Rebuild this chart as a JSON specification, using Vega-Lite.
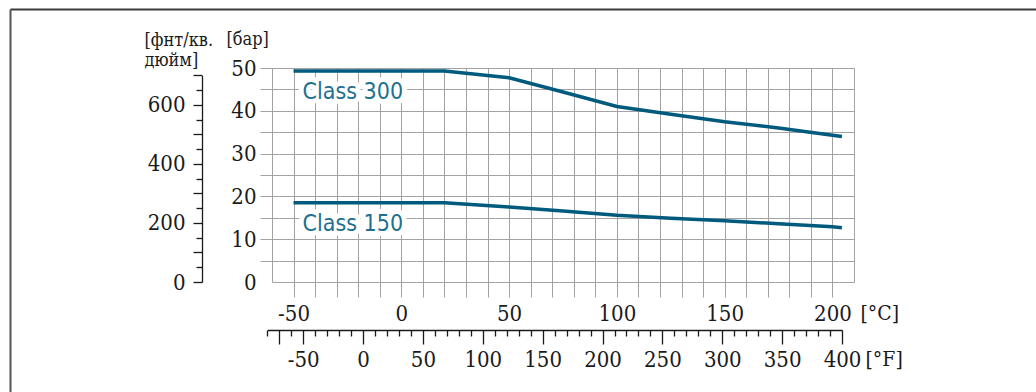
{
  "$schema": "https://vega.github.io/schema/vega-lite/v6.json",
  "width": 582,
  "height": 214,
  "autosize": "none",
  "padding": {"left": 272, "top": 68, "right": 182, "bottom": 110},
  "background": "white",
  "config": {
    "view": {"stroke": null},
    "font": "'DejaVu Serif Condensed', 'DejaVu Serif', serif",
    "axis": {
      "labelFont": "'DejaVu Serif Condensed', 'DejaVu Serif', serif",
      "titleFont": "'DejaVu Serif Condensed', 'DejaVu Serif', serif",
      "labelColor": "#1a1a1a",
      "titleColor": "#1a1a1a",
      "labelFontSize": 22,
      "titleFontSize": 21,
      "titleFontWeight": "normal",
      "labelOverlap": false,
      "labelFlush": false,
      "labelBound": false
    }
  },
  "data": {
    "values": [
      {"series": "Class 300", "t": -50, "p": 49.3},
      {"series": "Class 300", "t": 20, "p": 49.3},
      {"series": "Class 300", "t": 50, "p": 47.7},
      {"series": "Class 300", "t": 75, "p": 44.4},
      {"series": "Class 300", "t": 100, "p": 41.0},
      {"series": "Class 300", "t": 125, "p": 39.2},
      {"series": "Class 300", "t": 150, "p": 37.45},
      {"series": "Class 300", "t": 175, "p": 36.0},
      {"series": "Class 300", "t": 200, "p": 34.3},
      {"series": "Class 300", "t": 204.4, "p": 34.0},
      {"series": "Class 150", "t": -50, "p": 18.5},
      {"series": "Class 150", "t": 20, "p": 18.5},
      {"series": "Class 150", "t": 50, "p": 17.5},
      {"series": "Class 150", "t": 75, "p": 16.6},
      {"series": "Class 150", "t": 100, "p": 15.6},
      {"series": "Class 150", "t": 125, "p": 14.9},
      {"series": "Class 150", "t": 150, "p": 14.3},
      {"series": "Class 150", "t": 175, "p": 13.6},
      {"series": "Class 150", "t": 200, "p": 12.9},
      {"series": "Class 150", "t": 204.4, "p": 12.7}
    ]
  },
  "resolve": {
    "scale": {"x": "independent", "y": "independent"},
    "axis": {"x": "independent", "y": "independent"}
  },
  "layer": [
    {
      "encoding": {
        "x": {
          "field": "t",
          "type": "quantitative",
          "scale": {"domain": [-60, 210], "nice": false, "zero": false},
          "axis": {
            "orient": "bottom",
            "values": [-60, -50, -40, -30, -20, -10, 0, 10, 20, 30, 40, 50, 60, 70, 80, 90, 100, 110, 120, 130, 140, 150, 160, 170, 180, 190, 200, 210],
            "grid": true,
            "gridColor": "#a3a3a3",
            "gridWidth": 1,
            "domain": false,
            "tickSize": 15,
            "tickColor": "#a3a3a3",
            "tickWidth": 1,
            "tickOpacity": {"condition": {"test": "datum.value < -55 || datum.value > 205", "value": 0}, "value": 1},
            "labelExpr": "datum.value % 50 === 0 ? '' + datum.value : ''",
            "labelBaseline": "middle",
            "labelPadding": 16,
            "title": "[°C]",
            "titleX": 588,
            "titleY": 31,
            "titleAlign": "left",
            "titleBaseline": "middle",
            "titleAnchor": "start"
          }
        },
        "y": {
          "field": "p",
          "type": "quantitative",
          "scale": {"domain": [0, 50], "nice": false, "zero": false},
          "axis": {
            "orient": "left",
            "values": [0, 5, 10, 15, 20, 25, 30, 35, 40, 45, 50],
            "grid": true,
            "gridColor": "#a3a3a3",
            "gridWidth": 1,
            "domain": false,
            "tickSize": 12,
            "tickColor": "#a3a3a3",
            "tickWidth": 1,
            "tickOpacity": {"condition": {"test": "datum.value < 1", "value": 0}, "value": 1},
            "labelExpr": "datum.value % 10 === 0 ? '' + datum.value : ''",
            "labelPadding": 4,
            "title": "[бар]",
            "titleFontSize": 18,
            "titleAngle": 0,
            "titleX": -46,
            "titleY": -29,
            "titleAlign": "left",
            "titleBaseline": "middle",
            "titleAnchor": "start"
          }
        }
      },
      "layer": [
        {
          "mark": {"type": "line", "color": "#005a7d", "strokeWidth": 3.5, "strokeCap": "butt"},
          "encoding": {"detail": {"field": "series"}}
        },
        {
          "transform": [{"filter": "datum.t === -50"}],
          "mark": {"type": "text", "align": "left", "baseline": "middle", "dx": 9, "dy": 21, "fontSize": 23, "font": "'DejaVu Sans Condensed', 'DejaVu Sans', sans-serif", "fill": "white", "stroke": "white", "strokeWidth": 10, "strokeJoin": "round"},
          "encoding": {"text": {"field": "series"}}
        },
        {
          "transform": [{"filter": "datum.t === -50"}],
          "mark": {"type": "text", "align": "left", "baseline": "middle", "dx": 9, "dy": 21, "fontSize": 23, "font": "'DejaVu Sans Condensed', 'DejaVu Sans', sans-serif", "fill": "#21708f"},
          "encoding": {"text": {"field": "series"}}
        }
      ]
    },
    {
      "mark": {"type": "point", "opacity": 0},
      "encoding": {
        "y": {
          "datum": 0,
          "type": "quantitative",
          "scale": {"domain": [0, 700], "range": [214, 7.43], "nice": false, "zero": false},
          "axis": {
            "orient": "left",
            "offset": 70,
            "values": [0, 100, 200, 300, 400, 500, 600, 700],
            "grid": false,
            "domain": true,
            "domainColor": "#1a1a1a",
            "domainWidth": 1.3,
            "tickSize": 9,
            "tickColor": "#1a1a1a",
            "tickWidth": 1.3,
            "labelPadding": 8,
            "labelExpr": "datum.value % 200 === 0 ? '' + datum.value : ''",
            "title": ["[фнт/кв.", "дюйм]"],
            "titleFontSize": 18,
            "titleLineHeight": 20,
            "titleAngle": 0,
            "titleX": -58,
            "titleY": -28,
            "titleAlign": "left",
            "titleBaseline": "middle",
            "titleAnchor": "start"
          }
        }
      }
    },
    {
      "mark": {"type": "point", "opacity": 0},
      "encoding": {
        "y": {
          "datum": 0,
          "type": "quantitative",
          "scale": {"domain": [0, 700], "range": [214, 7.43], "nice": false, "zero": false},
          "axis": {
            "orient": "left",
            "offset": 70,
            "values": [50, 150, 250, 350, 450, 550, 650],
            "grid": false,
            "domain": false,
            "tickSize": 6,
            "tickColor": "#1a1a1a",
            "tickWidth": 1.3,
            "labels": false,
            "title": null
          }
        }
      }
    },
    {
      "mark": {"type": "point", "opacity": 0},
      "encoding": {
        "x": {
          "datum": 0,
          "type": "quantitative",
          "scale": {"domain": [-80, 400], "range": [-4.79, 570.04], "nice": false, "zero": false},
          "axis": {
            "orient": "bottom",
            "offset": 48,
            "values": [-70, -50, 0, 50, 100, 150, 200, 250, 300, 350, 400],
            "grid": false,
            "domain": true,
            "domainColor": "#1a1a1a",
            "domainWidth": 1.3,
            "tickSize": 14,
            "tickColor": "#1a1a1a",
            "tickWidth": 1.3,
            "labelExpr": "datum.value === -70 ? '' : '' + datum.value",
            "labelBaseline": "middle",
            "labelPadding": 15,
            "title": "[°F]",
            "titleX": 593,
            "titleY": 29,
            "titleAlign": "left",
            "titleBaseline": "middle",
            "titleAnchor": "start"
          }
        }
      }
    },
    {
      "mark": {"type": "point", "opacity": 0},
      "encoding": {
        "x": {
          "datum": 0,
          "type": "quantitative",
          "scale": {"domain": [-80, 400], "range": [-4.79, 570.04], "nice": false, "zero": false},
          "axis": {
            "orient": "bottom",
            "offset": 48,
            "values": [-80, -60, -40, -30, -20, -10, 10, 20, 30, 40, 60, 70, 80, 90, 110, 120, 130, 140, 160, 170, 180, 190, 210, 220, 230, 240, 260, 270, 280, 290, 310, 320, 330, 340, 360, 370, 380, 390],
            "grid": false,
            "domain": false,
            "tickSize": 6,
            "tickColor": "#1a1a1a",
            "tickWidth": 1.3,
            "labels": false,
            "title": null
          }
        }
      }
    },
    {
      "mark": {"type": "point", "opacity": 0},
      "encoding": {
        "x": {
          "datum": 0,
          "type": "quantitative",
          "scale": {"domain": [0, 1], "range": [-262, 764], "nice": false, "zero": false},
          "axis": {
            "orient": "top",
            "offset": 59,
            "values": [],
            "grid": false,
            "gridOpacity": 0,
            "domain": true,
            "domainColor": "#3a3a3a",
            "domainWidth": 2,
            "domainCap": "butt",
            "ticks": false,
            "tickOpacity": 0,
            "labels": false,
            "title": null
          }
        }
      }
    },
    {
      "mark": {"type": "point", "opacity": 0},
      "encoding": {
        "y": {
          "datum": 0,
          "type": "quantitative",
          "scale": {"domain": [0, 1], "range": [324, -59], "nice": false, "zero": false},
          "axis": {
            "orient": "left",
            "offset": 262,
            "values": [],
            "grid": false,
            "gridOpacity": 0,
            "domain": true,
            "domainColor": "#555555",
            "domainWidth": 2,
            "domainCap": "butt",
            "ticks": false,
            "tickOpacity": 0,
            "labels": false,
            "title": null
          }
        }
      }
    }
  ]
}
